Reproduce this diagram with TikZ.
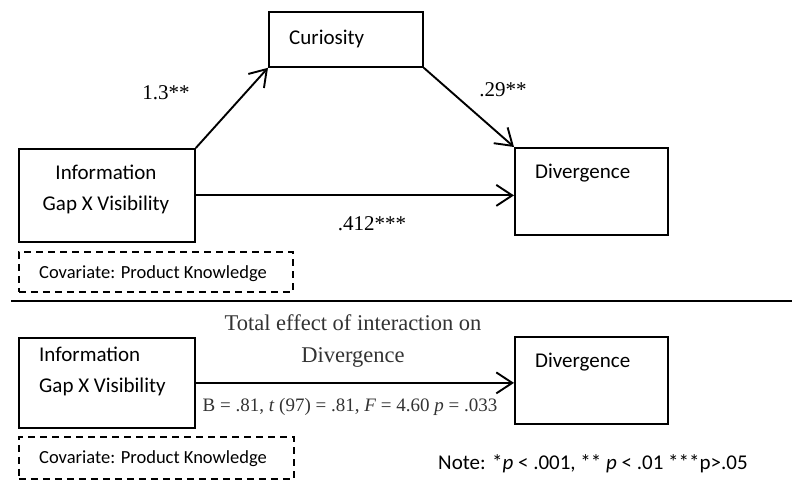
\documentclass[tikz,border=0pt]{standalone}
\usepackage{fontspec}
\setmainfont{Liberation Serif}
\newfontfamily\calibri{Carlito}
\usetikzlibrary{arrows.meta,positioning}

\begin{document}
\begin{tikzpicture}[x=1pt,y=-1pt,
    box/.style={draw, line width=1.8pt, inner sep=0pt, anchor=north west},
    covbox/.style={draw, line width=1.6pt, dash pattern=on 7pt off 5pt, inner sep=0pt, anchor=north west},
    boxtext/.style={font=\calibri\fontsize{21}{31}\selectfont, inner sep=0pt},
    covtext/.style={font=\calibri\fontsize{18.5}{22}\selectfont, inner sep=0pt, anchor=west},
    coef/.style={font=\fontsize{21}{25}\selectfont, inner sep=0pt},
    arr/.style={-{Straight Barb[length=16pt,width=21pt]}, line width=1.9pt}]
    \useasboundingbox (0,0) rectangle (792,481);

    % Top: mediation model
    \node[box, minimum width=176pt, minimum height=93pt] (info) at (18,148) {};
    \node[boxtext, align=center] (infotext) at (106,189) {Information\\Gap X Visibility};

    \node[box, minimum width=154pt, minimum height=55pt] (cur) at (268,11) {};
    \node[boxtext, anchor=west] (curtext) at (289,38.5) {Curiosity};

    \node[box, minimum width=153pt, minimum height=87pt] (div) at (514,147) {};
    \node[boxtext, anchor=west] (divtext) at (535,173) {Divergence};

    \node[covbox, minimum width=274pt, minimum height=40pt] (cov) at (18,251) {};
    \node[covtext] (covtext) at (39,274) {Covariate: Product Knowledge};

    % Paths
    \draw[arr] (info.north east) -- (cur.south west);
    \draw[arr] (cur.south east) -- (div.north west);
    \draw[arr] (info.east) -- (info.east -| div.west);

    \node[coef] (a) at (166,93) {1.3**};
    \node[coef] (b) at (503,90) {.29**};
    \node[coef] (c) at (372,224) {.412***};

    % Separator
    \draw[line width=2.8pt] (11,301) -- (792,301);

    % Bottom: total effect
    \node[box, minimum width=176pt, minimum height=90pt] (infob) at (18,337) {};
    \node[boxtext, align=left, anchor=north west] (infobtext) at (39,347) {Information\\Gap X Visibility};

    \node[box, minimum width=153pt, minimum height=87pt] (divb) at (514,336) {};
    \node[boxtext, anchor=west] (divbtext) at (535,362) {Divergence};

    \node[covbox, minimum width=275pt, minimum height=42pt] (covb) at (18,436) {};
    \node[covtext] (covbtext) at (39,459) {Covariate: Product Knowledge};

    \draw[arr] (infob.east) -- (infob.east -| divb.west);

    \node[align=center, text=black!80, font=\fontsize{22.5}{32}\selectfont, inner sep=0pt] (total) at (353,341)
        {Total effect of interaction on\\Divergence};
    \node[text=black!80, font=\fontsize{19}{22}\selectfont, inner sep=0pt] (stats) at (350,407)
        {B = .81, \textit{t} (97) = .81, \textit{F} = 4.60 \textit{p} = .033};

    \node[font=\calibri\fontsize{21}{25}\selectfont, inner sep=0pt, anchor=west] (note) at (438,464)
        {Note: *\textit{p} < .001, ** \textit{p} < .01 ***p>.05};
\end{tikzpicture}
\end{document}
